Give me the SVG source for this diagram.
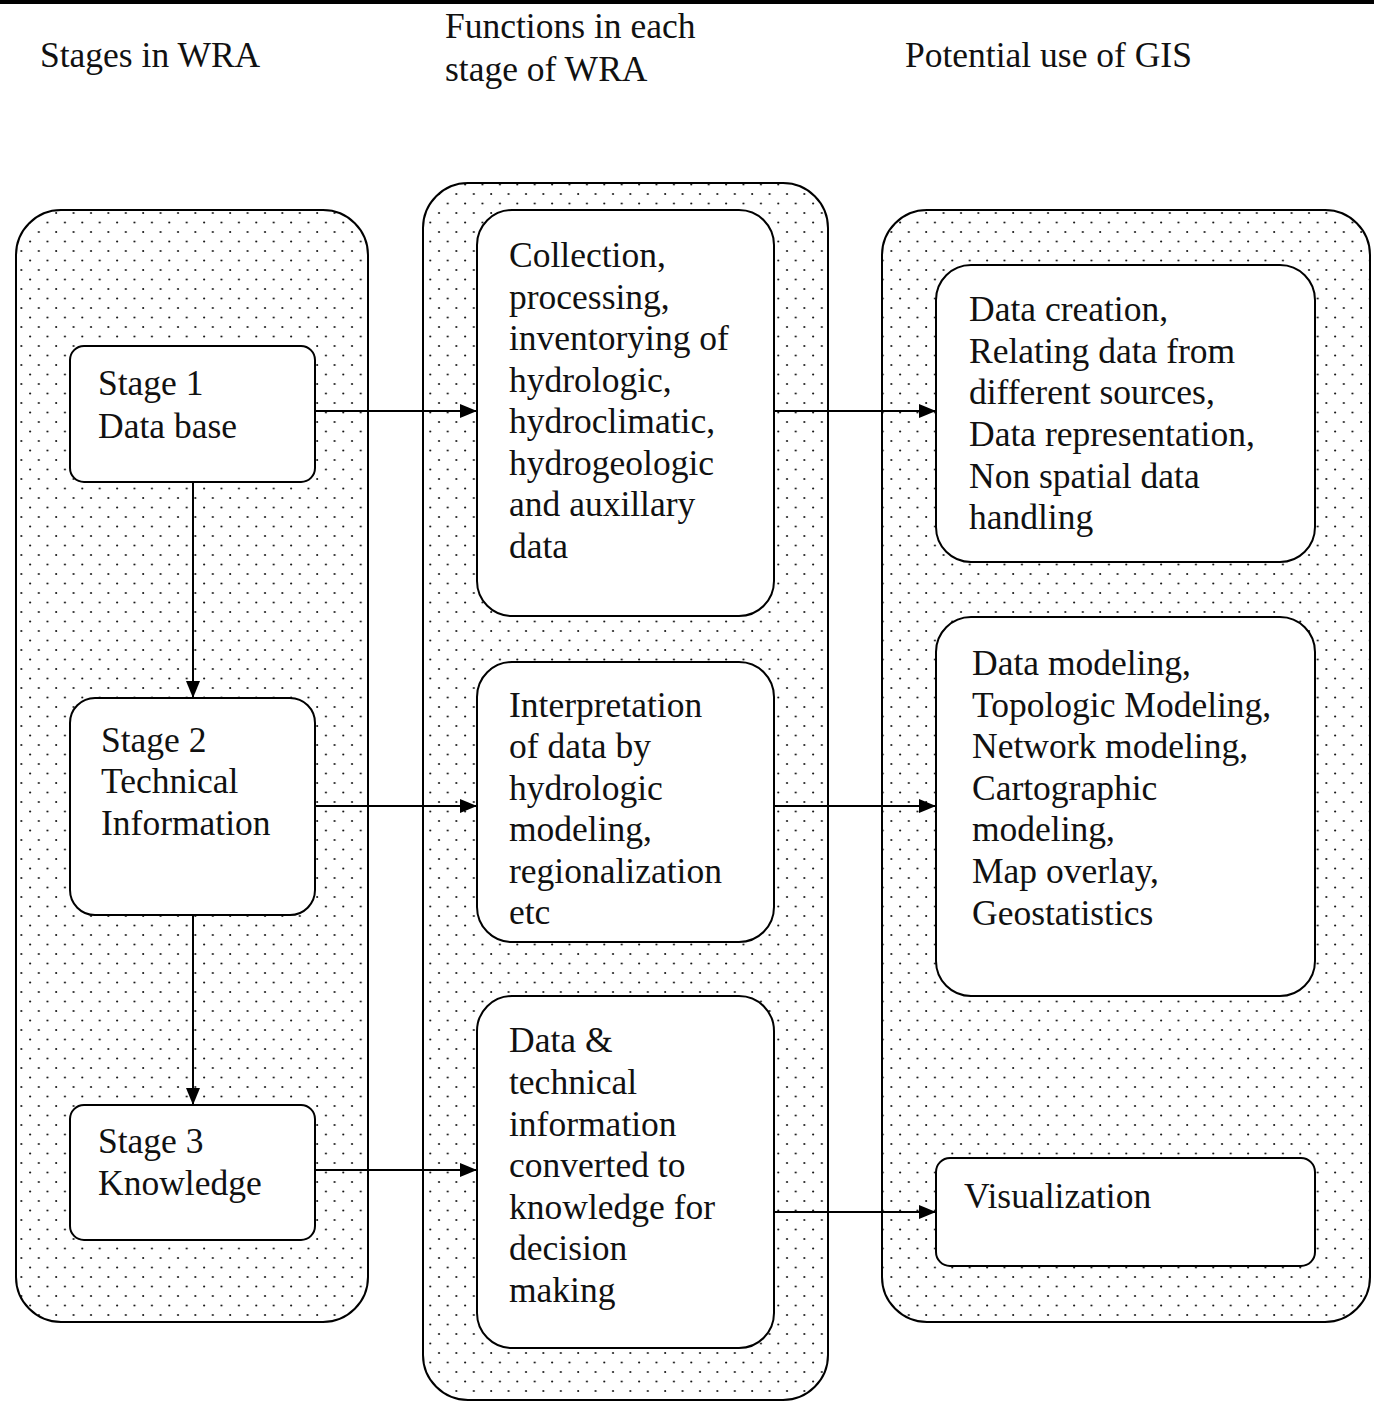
<svg xmlns="http://www.w3.org/2000/svg" width="1374" height="1403" viewBox="0 0 1374 1403">
<defs>
<pattern id="dots" patternUnits="userSpaceOnUse" width="17.4" height="19">
<circle cx="4" cy="4" r="1.05" fill="#111"/>
<circle cx="12.7" cy="13.5" r="1.05" fill="#111"/>
</pattern>
<marker id="arr" viewBox="0 0 17 14" refX="17" refY="7" markerWidth="17" markerHeight="14" markerUnits="userSpaceOnUse" orient="auto">
<path d="M0,0 L17,7 L0,14 Z" fill="#000"/>
</marker>
</defs>
<style>
.panel{fill:url(#dots);stroke:#000;stroke-width:2}
.box{fill:#fff;stroke:#000;stroke-width:2}
text{font-family:"Liberation Serif","Times New Roman",serif;font-size:35.5px;fill:#111}
.conn line{stroke:#000;stroke-width:2;marker-end:url(#arr)}
</style>
<rect x="0" y="0" width="1374" height="4" fill="#000"/>
<g id="headers">
<text x="40" y="67">Stages in WRA</text>
<text x="445" y="38">Functions in each</text>
<text x="445" y="81">stage of WRA</text>
<text x="905" y="67">Potential use of GIS</text>
</g>
<g id="panel-stages"><rect class="panel" x="16" y="210" width="352" height="1112" rx="45"/></g>
<g id="panel-functions"><rect class="panel" x="423" y="183" width="405" height="1217" rx="45"/></g>
<g id="panel-gis"><rect class="panel" x="882" y="210" width="488" height="1112" rx="45"/></g>
<g id="conns" class="conn">
<line x1="193" y1="482" x2="193" y2="698"/>
<line x1="193" y1="915" x2="193" y2="1105"/>
<line x1="315" y1="411" x2="477" y2="411"/>
<line x1="774" y1="411" x2="936" y2="411"/>
<line x1="315" y1="806" x2="477" y2="806"/>
<line x1="774" y1="806" x2="936" y2="806"/>
<line x1="315" y1="1170" x2="477" y2="1170"/>
<line x1="774" y1="1212" x2="936" y2="1212"/>
</g>
<g id="stage1"><rect class="box" x="70" y="346" width="245" height="136" rx="14"/>
<text x="98" y="395">Stage 1</text><text x="98" y="438">Data base</text></g>
<g id="stage2"><rect class="box" x="70" y="698" width="245" height="217" rx="25"/>
<text x="101" y="752">Stage 2</text><text x="101" y="793">Technical</text><text x="101" y="835">Information</text></g>
<g id="stage3"><rect class="box" x="70" y="1105" width="245" height="135" rx="14"/>
<text x="98" y="1153">Stage 3</text><text x="98" y="1195">Knowledge</text></g>
<g id="func1"><rect class="box" x="477" y="210" width="297" height="406" rx="35"/>
<text x="509"><tspan x="509" y="267">Collection,</tspan><tspan x="509" y="309">processing,</tspan><tspan x="509" y="350">inventorying of</tspan><tspan x="509" y="392">hydrologic,</tspan><tspan x="509" y="433">hydroclimatic,</tspan><tspan x="509" y="475">hydrogeologic</tspan><tspan x="509" y="516">and auxillary</tspan><tspan x="509" y="558">data</tspan></text></g>
<g id="func2"><rect class="box" x="477" y="662" width="297" height="280" rx="35"/>
<text x="509"><tspan x="509" y="717">Interpretation</tspan><tspan x="509" y="758">of data by</tspan><tspan x="509" y="800">hydrologic</tspan><tspan x="509" y="841">modeling,</tspan><tspan x="509" y="883">regionalization</tspan><tspan x="509" y="924">etc</tspan></text></g>
<g id="func3"><rect class="box" x="477" y="996" width="297" height="352" rx="35"/>
<text x="509"><tspan x="509" y="1052">Data &amp;</tspan><tspan x="509" y="1094">technical</tspan><tspan x="509" y="1136">information</tspan><tspan x="509" y="1177">converted to</tspan><tspan x="509" y="1219">knowledge for</tspan><tspan x="509" y="1260">decision</tspan><tspan x="509" y="1302">making</tspan></text></g>
<g id="gis1"><rect class="box" x="936" y="265" width="379" height="297" rx="35"/>
<text x="969"><tspan x="969" y="321">Data creation,</tspan><tspan x="969" y="363">Relating data from</tspan><tspan x="969" y="404">different sources,</tspan><tspan x="969" y="446">Data representation,</tspan><tspan x="969" y="488">Non spatial data</tspan><tspan x="969" y="529">handling</tspan></text></g>
<g id="gis2"><rect class="box" x="936" y="617" width="379" height="379" rx="35"/>
<text x="972"><tspan x="972" y="675">Data modeling,</tspan><tspan x="972" y="717">Topologic Modeling,</tspan><tspan x="972" y="758">Network modeling,</tspan><tspan x="972" y="800">Cartographic</tspan><tspan x="972" y="841">modeling,</tspan><tspan x="972" y="883">Map overlay,</tspan><tspan x="972" y="925">Geostatistics</tspan></text></g>
<g id="gis3"><rect class="box" x="936" y="1158" width="379" height="108" rx="14"/>
<text x="964" y="1208">Visualization</text></g>
</svg>
